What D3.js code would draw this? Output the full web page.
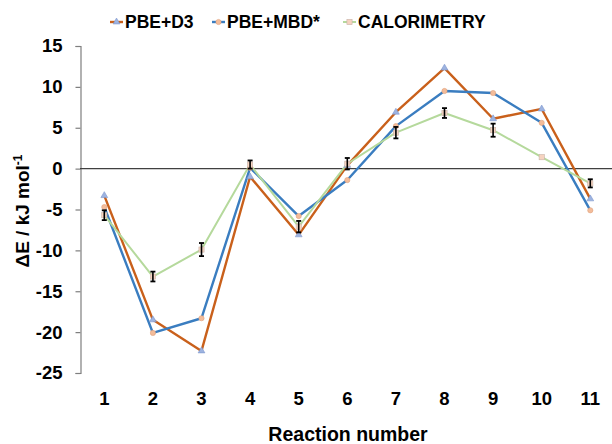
<!DOCTYPE html>
<html>
<head>
<meta charset="utf-8">
<script src="https://cdn.jsdelivr.net/npm/d3@7"></script>
<style>
  body { margin: 0; background: #fff; }
  text { font-family: "Liberation Sans", Arial, sans-serif; font-weight: bold; fill: #000; }
</style>
</head>
<body>
<div id="chart"></div>
<script>
// data
var reactions = [1, 2, 3, 4, 5, 6, 7, 8, 9, 10, 11];
var pbeD3 = [-3.3, -18.5, -22.3, -1.0, -8.1, 0.4, 6.9, 12.3, 6.1, 7.3, -3.7];
var pbeMbd = [-4.7, -20.1, -18.3, 0.1, -5.8, -1.4, 5.2, 9.5, 9.25, 5.6, -5.1];
var calorimetry = [-5.7, -13.2, -9.9, 0.5, -7.1, 0.6, 4.4, 6.8, 4.7, 1.4, -1.8];
var calError = [0.6, 0.6, 0.8, 0.5, 0.7, 0.7, 0.7, 0.6, 0.8, 0, 0.5];
var yTicks = [-25, -20, -15, -10, -5, 0, 5, 10, 15];
var seriesNames = ["PBE+D3", "PBE+MBD*", "CALORIMETRY"];

var svgWidth = 612;
var svgHeight = 444;

var svg = d3.select("#chart")
    .append("svg")
    .attr("width", svgWidth)
    .attr("height", svgHeight);

//scales
var xScale = d3.scalePoint()
    .domain(reactions)
    .range([80, 80 + 11 * 48.6])
    .padding(0.5);

var yScale = d3.scaleLinear()
    .domain([-25, 15])
    .range([373, 46]);

var series = [
    {name: seriesNames[0], values: pbeD3, color: "#C9601B", width: 2.4, marker: "triangle", mfill: "#9DB3E0", mstroke: "#7E97CF"},
    {name: seriesNames[1], values: pbeMbd, color: "#3A7DC0", width: 2.4, marker: "circle", mfill: "#F3BC9A", mstroke: "#E0A27E"},
    {name: seriesNames[2], values: calorimetry, color: "#B5D99C", width: 2, marker: "square", mfill: "#F6D3C0", mstroke: "#C8B3A8"}
];

//left axis (plain hyphen for negatives, like the original)
var leftAxis = d3.axisLeft(yScale)
    .tickValues(yTicks)
    .tickFormat(d => String(d))
    .tickSize(5)
    .tickPadding(13);

var yAxisG = svg.append("g")
    .attr("transform", "translate(80.5, 0)")
    .call(leftAxis);
yAxisG.select(".domain").attr("stroke", "#7f7f7f").attr("stroke-width", 1.2);
yAxisG.selectAll(".tick line").attr("stroke", "#7f7f7f").attr("stroke-width", 1.2);
yAxisG.selectAll(".tick text")
    .style("font-size", "18.5px")
    .style("font-family", "Liberation Sans, Arial, sans-serif")
    .style("font-weight", "bold")
    .attr("fill", "#000");

//zero line
svg.append("line")
    .attr("x1", 80)
    .attr("x2", svgWidth)
    .attr("y1", yScale(0))
    .attr("y2", yScale(0))
    .attr("stroke", "#404040")
    .attr("stroke-width", 1.3);

//x category labels
svg.selectAll(".xlab")
    .data(reactions)
    .enter()
    .append("text")
    .attr("class", "xlab")
    .attr("x", d => xScale(d))
    .attr("y", 405)
    .style("font-size", "18.5px")
    .style("text-anchor", "middle")
    .text(d => d);

//lines
var line = d3.line()
    .x((d, i) => xScale(reactions[i]))
    .y(d => yScale(d));

series.forEach(function (s) {
    svg.append("path")
        .datum(s.values)
        .attr("d", line)
        .attr("fill", "none")
        .attr("stroke", s.color)
        .attr("stroke-width", s.width)
        .attr("stroke-linejoin", "round");
});

function drawMarker(g, type, x, y, fill, stroke) {
    if (type === "triangle") {
        g.append("path")
            .attr("d", d3.symbol().type(d3.symbolTriangle).size(20)())
            .attr("transform", `translate(${x}, ${y})`)
            .attr("fill", fill).attr("stroke", stroke).attr("stroke-width", 0.6);
    } else if (type === "circle") {
        g.append("circle")
            .attr("cx", x).attr("cy", y).attr("r", 2.6)
            .attr("fill", fill).attr("stroke", stroke).attr("stroke-width", 0.6);
    } else {
        g.append("rect")
            .attr("x", x - 2.6).attr("y", y - 2.6)
            .attr("width", 5.2).attr("height", 5.2)
            .attr("fill", fill).attr("stroke", stroke).attr("stroke-width", 0.6);
    }
}

//markers
var markerG = svg.append("g");
series.forEach(function (s) {
    s.values.forEach(function (v, i) {
        drawMarker(markerG, s.marker, xScale(reactions[i]), yScale(v), s.mfill, s.mstroke);
    });
});

//error bars on calorimetry
var errG = svg.append("g");
calorimetry.forEach(function (v, i) {
    var e = calError[i];
    if (e <= 0) return;
    var x = xScale(reactions[i]);
    var y1 = yScale(v + e), y2 = yScale(v - e);
    errG.append("line").attr("x1", x).attr("x2", x).attr("y1", y1).attr("y2", y2)
        .attr("stroke", "#000").attr("stroke-width", 1.6);
    [y1, y2].forEach(function (yy) {
        errG.append("line").attr("x1", x - 2.5).attr("x2", x + 2.5).attr("y1", yy).attr("y2", yy)
            .attr("stroke", "#000").attr("stroke-width", 1.8);
    });
});

//legend
var legendX = [110, 212, 343];
var legend = svg.append("g");
series.forEach(function (s, i) {
    var lx = legendX[i];
    legend.append("line")
        .attr("x1", lx).attr("x2", lx + 13)
        .attr("y1", 22).attr("y2", 22)
        .attr("stroke", s.color)
        .attr("stroke-width", s.width);
    drawMarker(legend, s.marker, lx + 6.5, 22, s.mfill, s.mstroke);
    legend.append("text")
        .attr("x", lx + 15)
        .attr("y", 28)
        .style("font-size", "17.5px")
        .text(s.name);
});

//axis titles
svg.append("text")
    .attr("x", 348)
    .attr("y", 441)
    .style("font-size", "19.5px")
    .style("text-anchor", "middle")
    .text("Reaction number");

var yTitle = svg.append("text")
    .attr("transform", "translate(29, 211) rotate(-90)")
    .style("font-size", "19px")
    .style("text-anchor", "middle");
yTitle.append("tspan").text("\u0394E / kJ mol");
yTitle.append("tspan")
    .attr("dy", -7)
    .style("font-size", "12px")
    .text("-1");
</script>
</body>
</html>
